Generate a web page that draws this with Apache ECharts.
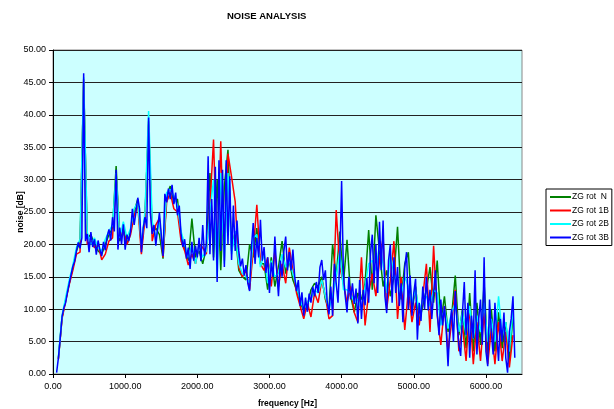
<!DOCTYPE html>
<html><head><meta charset="utf-8">
<script src="https://cdn.jsdelivr.net/npm/echarts@6/dist/echarts.min.js"></script>
<style>html,body{margin:0;padding:0;background:#fff}#c{width:614px;height:409px}</style>
</head><body><div id="c"></div>
<script>
// ---- data ----
const titleText = 'NOISE ANALYSIS';
const xName = 'frequency [Hz]';
const yName = 'noise [dB]';
const seriesNames = ['ZG rot  N', 'ZG rot 1B', 'ZG rot 2B', 'ZG rot 3B'];
const xTicks = [0, 1000, 2000, 3000, 4000, 5000, 6000];

// ZG rot 3B (blue), 50 Hz .. 6400 Hz every 25 Hz
const blueStartHz = 50, blueStepHz = 25;
const blueVals = [
 0.2, 2.5, 5.5, 8.8, 10.2, 11.0, 12.6, 14.0, 15.3, 16.6, 17.4, 19.0, 20.3, 19.4, 21.0, 46.4, 20.5, 21.6, 18.8, 21.9,
 19.6, 20.8, 18.4, 20.6, 19.2, 18.2, 20.4, 19.1, 21.2, 22.3, 20.6, 24.2, 22.0, 31.5, 19.2, 22.6, 20.0, 23.1, 19.2, 21.5,
 20.5, 22.0, 25.5, 23.0, 25.0, 27.2, 25.5, 18.8, 22.5, 24.2, 22.5, 39.6, 24.7, 21.6, 23.0, 19.8, 22.5, 24.9, 21.6, 18.2,
 27.8, 26.5, 28.6, 27.0, 29.2, 26.2, 28.0, 24.5, 26.0, 21.5, 19.6, 20.8, 17.8, 19.5, 16.2, 20.4, 17.5, 19.8, 18.0, 21.0,
 17.4, 23.0, 18.2, 20.0, 33.6, 18.5, 27.0, 17.5, 32.0, 14.2, 33.0, 19.0, 31.5, 16.5, 33.0, 20.0, 30.5, 17.6, 26.0, 19.0,
 23.7, 19.0, 16.6, 17.8, 15.2, 16.8, 14.0, 12.8, 19.5, 23.3, 17.0, 21.0, 18.0, 23.8, 17.5, 19.6, 15.6, 18.0, 12.5, 17.2,
 15.0, 21.2, 16.0, 12.0, 17.5, 15.0, 19.0, 21.2, 16.0, 18.8, 16.0, 19.2, 15.0, 12.8, 14.5, 10.5, 12.6, 9.0, 11.8, 9.6,
 12.4, 11.0, 13.5, 12.0, 14.2, 12.5, 16.5, 17.6, 14.5, 16.0, 11.2, 9.2, 13.5, 9.0, 17.0, 14.0, 11.0, 17.6, 29.8, 15.5,
 12.0, 9.5, 15.0, 11.5, 14.0, 10.8, 13.2, 7.8, 14.5, 8.5, 13.0, 10.6, 14.8, 11.0, 18.5, 21.5, 14.0, 20.0, 12.5, 23.5,
 16.0, 23.7, 12.0, 9.4, 17.5, 20.0, 11.0, 18.0, 12.5, 16.5, 10.5, 14.0, 8.0, 16.5, 18.8, 10.0, 15.2, 9.0, 12.5, 14.7,
 5.3, 11.0, 8.2, 13.5, 10.0, 15.0, 9.8, 13.0, 8.5, 12.5, 16.0, 9.5, 6.0, 11.5, 7.5, 10.5, 6.8, 1.2, 7.5, 10.0,
 5.0, 12.8, 8.0, 4.5, 2.8, 9.5, 14.2, 6.0, 11.0, 2.5, 9.0, 5.5, 16.0, 3.0, 8.5, 11.5, 4.5, 18.0, 3.5, 1.2,
 11.5, 6.5, 3.0, 11.0, 6.0, 2.0, 8.5, 5.0, 9.5, 2.5, 0.2, 6.5, 8.5, 12.0, 2.5
];

// other three series, 75 Hz .. 6375 Hz every 50 Hz
const otherStartHz = 75, otherStepHz = 50;
const greenVals = [
 2.4, 8.7, 11.4, 14.0, 16.4, 19.0, 20.5, 45.0, 21.0, 21.5,
 20.0, 19.0, 18.5, 20.0, 21.5, 22.5, 32.1, 20.5, 22.5, 20.0,
 22.0, 25.0, 27.0, 19.5, 24.5, 38.5, 22.0, 22.5, 21.5, 17.8,
 27.5, 29.0, 26.5, 27.0, 21.0, 19.5, 17.5, 24.0, 18.0, 19.0,
 17.0, 19.5, 31.0, 18.0, 30.0, 16.0, 29.0, 34.6, 19.0, 22.0,
 16.0, 15.0, 14.5, 20.0, 18.0, 22.5, 17.0, 17.0, 13.0, 18.0,
 13.5, 16.5, 20.5, 15.5, 17.5, 14.5, 13.0, 11.0, 9.8, 10.5,
 13.0, 14.0, 13.5, 15.0, 11.5, 10.0, 20.0, 15.0, 22.0, 14.0,
 20.7, 12.0, 9.5, 12.5, 11.5, 14.0, 22.2, 13.0, 24.5, 19.0,
 13.5, 16.0, 12.0, 15.0, 22.7, 11.5, 17.0, 18.8, 9.5, 13.5,
 8.0, 10.5, 13.0, 16.5, 11.0, 17.5, 8.0, 12.0, 6.5, 9.0,
 15.2, 6.0, 10.0, 4.0, 12.5, 3.5, 11.0, 4.5, 14.0, 3.0,
 10.0, 3.5, 9.5, 4.0, 8.0, 2.0, 9.0
];
const redVals = [
 2.3, 8.5, 11.2, 13.8, 16.0, 18.5, 18.8, 45.5, 20.0, 20.5,
 19.5, 20.0, 17.6, 18.5, 20.5, 21.0, 30.5, 21.5, 22.0, 20.0,
 21.5, 24.5, 26.0, 18.5, 24.0, 39.0, 20.5, 23.0, 24.0, 18.0,
 26.5, 28.0, 25.5, 25.0, 20.5, 19.0, 16.8, 18.5, 17.0, 20.0,
 19.5, 18.5, 26.0, 36.2, 17.0, 35.9, 17.5, 34.0, 30.4, 26.6,
 16.5, 15.0, 16.0, 13.0, 19.0, 26.1, 17.0, 16.0, 18.0, 13.5,
 19.0, 13.5, 17.0, 14.0, 19.5, 16.0, 12.5, 10.5, 8.5, 11.0,
 8.8, 12.5, 11.0, 14.5, 12.0, 8.5, 9.0, 25.3, 16.5, 14.0,
 11.0, 13.5, 9.5, 8.0, 18.0, 7.5, 12.5, 15.5, 12.0, 17.5,
 21.0, 10.0, 14.5, 20.5, 8.5, 15.0, 6.8, 13.0, 8.0, 11.0,
 7.5, 12.0, 17.0, 6.5, 19.8, 9.0, 4.5, 10.5, 3.5, 8.0,
 13.0, 3.5, 7.5, 2.0, 10.5, 1.5, 8.0, 2.0, 9.5, 1.5,
 7.0, 1.5, 8.0, 2.0, 6.5, 1.0, 6.0
];
const cyanVals = [
 2.6, 9.0, 11.8, 14.5, 16.8, 19.5, 20.8, 45.8, 21.8, 20.0,
 21.0, 19.5, 19.0, 20.8, 22.0, 23.0, 31.0, 21.0, 23.5, 21.0,
 22.5, 25.5, 26.5, 20.0, 25.0, 40.6, 23.5, 21.0, 23.5, 19.0,
 28.0, 28.5, 27.5, 26.0, 22.0, 20.0, 18.0, 20.0, 17.0, 20.0,
 18.0, 19.0, 25.0, 30.0, 15.0, 31.0, 17.0, 31.0, 18.5, 22.0,
 17.0, 15.5, 15.0, 14.0, 21.0, 21.5, 16.5, 18.5, 14.0, 17.5,
 15.0, 15.5, 18.5, 16.5, 17.5, 15.5, 13.5, 11.5, 10.0, 11.0,
 11.5, 13.0, 12.5, 14.5, 12.0, 10.0, 12.0, 15.0, 19.0, 13.0,
 13.0, 12.5, 11.0, 11.5, 10.0, 13.5, 17.0, 17.5, 16.0, 20.0,
 17.0, 12.5, 18.5, 15.5, 14.0, 12.0, 15.0, 13.5, 11.0, 13.0,
 9.5, 11.5, 12.0, 10.5, 13.0, 12.5, 7.5, 10.0, 7.0, 9.5,
 11.0, 6.5, 9.5, 6.0, 10.5, 5.5, 9.0, 6.5, 11.0, 5.0,
 8.5, 5.0, 12.0, 6.0, 8.0, 3.5, 10.0
];

function toPairs(start, step, vals) { return vals.map((v, i) => [start + i * step, v]); }

const colors = ['#008000', '#ff0000', '#00ffff', '#0000ff'];
const font = 'Liberation Sans, Arial, sans-serif';

const chart = echarts.init(document.getElementById('c'), null, {renderer: 'canvas'});
const mk = (name, data, color) => ({
  name, type: 'line', data, symbol: 'none', showSymbol: false,
  lineStyle: {color, width: 1.5}, itemStyle: {color}, animation: false
});
chart.setOption({
  animation: false,
  title: {text: titleText, left: 227, top: 11, padding: 0,
    textStyle: {fontFamily: font, fontSize: 9.5, fontWeight: 'bold', color: '#000'}},
  legend: {
    orient: 'vertical', left: 546, top: 189, padding: [3, 3, 3, 4],
    borderColor: '#000', borderWidth: 1, itemWidth: 21, itemHeight: 2, itemGap: 3.5,
    icon: 'rect',
    textStyle: {fontFamily: font, fontSize: 8.5, color: '#000', padding: [0, 0, 0, -4], lineHeight: 10},
    data: seriesNames
  },
  grid: {left: 53, right: 92, top: 50, bottom: 35, show: true, outerBoundsMode: 'none',
    containLabel: false,
    backgroundColor: '#ccffff', borderColor: '#888', borderWidth: 1},
  xAxis: {
    type: 'value', min: 0, max: 6500, interval: 1000,
    name: xName, nameLocation: 'middle', nameGap: 25, nameMoveOverlap: false,
    nameTextStyle: {fontFamily: font, fontSize: 8.5, fontWeight: 'bold', color: '#000'},
    axisLine: {lineStyle: {color: '#000', width: 1}},
    axisTick: {show: true, length: 4, lineStyle: {color: '#000'}, customValues: xTicks},
    axisLabel: {fontFamily: font, fontSize: 9, color: '#000', margin: 8,
      customValues: xTicks, formatter: v => v.toFixed(2)},
    splitLine: {show: false}
  },
  yAxis: {
    type: 'value', min: 0, max: 50, interval: 5,
    name: yName, nameLocation: 'middle', nameGap: 28, nameRotate: 90, nameMoveOverlap: false,
    nameTextStyle: {fontFamily: font, fontSize: 8.5, fontWeight: 'bold', color: '#000'},
    axisLine: {show: true, lineStyle: {color: '#000', width: 1}},
    axisTick: {show: true, length: 4, lineStyle: {color: '#000'}},
    axisLabel: {fontFamily: font, fontSize: 9, color: '#000', margin: 7,
      formatter: v => v.toFixed(2)},
    splitLine: {show: true, lineStyle: {color: '#222', width: 1}}
  },
  series: [
    mk(seriesNames[0], toPairs(otherStartHz, otherStepHz, greenVals), colors[0]),
    mk(seriesNames[1], toPairs(otherStartHz, otherStepHz, redVals), colors[1]),
    mk(seriesNames[2], toPairs(otherStartHz, otherStepHz, cyanVals), colors[2]),
    mk(seriesNames[3], toPairs(blueStartHz, blueStepHz, blueVals), colors[3])
  ]
});
</script>
</body></html>
